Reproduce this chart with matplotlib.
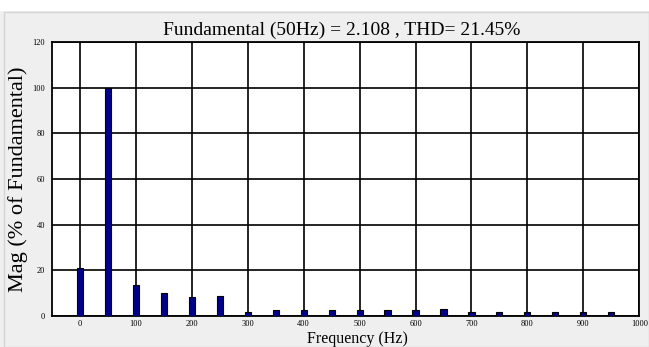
import numpy as np
import matplotlib.pyplot as plt
from matplotlib.patches import Rectangle

# harmonic spectrum, % of fundamental
freqs = [0, 50, 100, 150, 200, 250, 300, 350, 400, 450,
         500, 550, 600, 650, 700, 750, 800, 850, 900, 950]
mags = [21.2, 100, 13.5, 10, 8.2, 9, 1.6, 2.8, 2.6, 2.6,
        2.8, 2.8, 2.8, 3.2, 2.0, 1.8, 1.8, 2.0, 1.8, 1.8]
xticks = [0, 100, 200, 300, 400, 500, 600, 700, 800, 900, 1000]
yticks = [0, 20, 40, 60, 80, 100, 120]
title = "Fundamental (50Hz) = 2.108 , THD= 21.45%"

plt.rcParams['font.family'] = ['Liberation Serif', 'DejaVu Serif']

fig = plt.figure(figsize=(6.49, 3.47), dpi=100, facecolor="#efefef")
fig.patches.append(Rectangle((0, 0.968), 1, 0.032, transform=fig.transFigure,
                             facecolor="white", edgecolor="none"))
fig.patches.append(Rectangle((0.006, 0.0), 0.994, 0.966, transform=fig.transFigure,
                             facecolor="none", edgecolor="#d4d4d4", lw=1))

ax = fig.add_axes([0.080, 0.089, 0.905, 0.790])
ax.bar(freqs, mags, width=11, color="#000088", edgecolor="black", linewidth=0.8, zorder=3)

ax.set_xlim(-50, 1000)
ax.set_ylim(0, 120)
ax.set_xticks(xticks)
ax.set_yticks(yticks)
ax.tick_params(labelsize=6, length=0)
ax.tick_params(axis="x", pad=3)
ax.tick_params(axis="y", pad=5)
ax.grid(True, color="black", linewidth=1.2, zorder=0)
for s in ax.spines.values():
    s.set_linewidth(1.3)

ax.set_title(title, fontsize=14, pad=5, x=0.494)
ax.set_ylabel("Mag (% of Fundamental)", fontsize=16)
ax.yaxis.set_label_coords(-0.04, 0.5)
ax.set_xlabel("Frequency (Hz)", fontsize=11.5)
ax.xaxis.set_label_coords(0.52, -0.054)

fig.savefig("out.png", dpi=100, facecolor=fig.get_facecolor())
